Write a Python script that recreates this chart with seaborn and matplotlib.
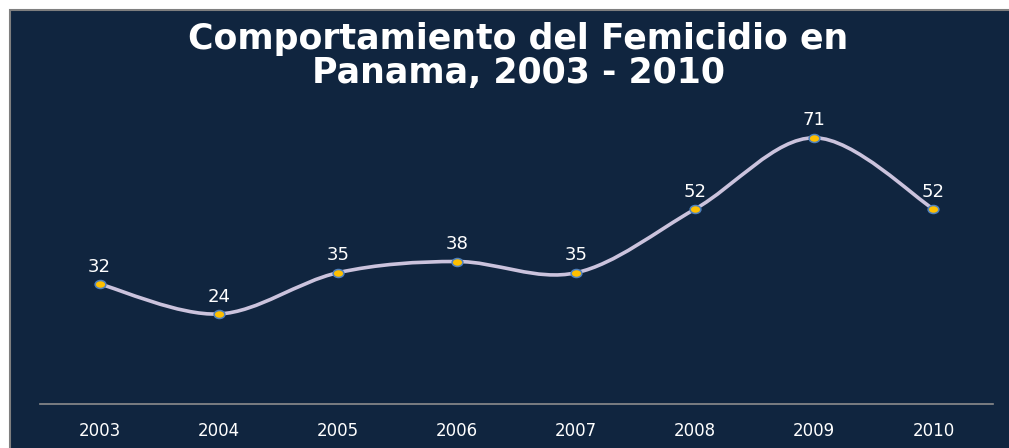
import numpy as np
import pandas as pd
import matplotlib
matplotlib.use("Agg")
import matplotlib.pyplot as plt
from matplotlib.path import Path
from matplotlib.patches import PathPatch, Rectangle
from matplotlib.transforms import Affine2D
import seaborn as sns

# Data
years = ["2003", "2004", "2005", "2006", "2007", "2008", "2009", "2010"]
cases = [32, 24, 35, 38, 35, 52, 71, 52]

navy = "#10253f"
sns.set_style("white")
plt.rcParams['font.family'] = ['DejaVu Sans']

fig = plt.figure(figsize=(10.09, 4.48), dpi=100)
fig.patch.set_facecolor("white")
fig.patches.append(Rectangle((10 / 1009, -0.01), 1.0, 1 - 10 / 448 + 0.01,
                             transform=fig.transFigure, facecolor=navy,
                             edgecolor="#7f7f7f", lw=1.5, zorder=-10))

ax = fig.add_axes([40 / 1009, 44 / 448, (993 - 40) / 1009, (404 - 104) / 448])
ax.set_facecolor("none")
ax.set_zorder(1)

df = pd.DataFrame({"year": years, "cases": cases})
xs = np.arange(len(years))

# smooth curve (Excel-like bezier through the points)
verts = [(xs[0], cases[0])]
codes = [Path.MOVETO]
n = len(xs)
for i in range(n - 1):
    p0 = np.array([xs[max(i - 1, 0)], cases[max(i - 1, 0)]], float)
    p1 = np.array([xs[i], cases[i]], float)
    p2 = np.array([xs[i + 1], cases[i + 1]], float)
    p3 = np.array([xs[min(i + 2, n - 1)], cases[min(i + 2, n - 1)]], float)
    c1 = p1 + (p2 - p0) / 6
    c2 = p2 - (p3 - p1) / 6
    verts += [tuple(c1), tuple(c2), tuple(p2)]
    codes += [Path.CURVE4] * 3
ax.add_patch(PathPatch(Path(verts, codes), facecolor="none",
                       edgecolor="#cbc3dd", lw=2.6, zorder=2, capstyle="round"))

# slightly wide oval markers
oval = Path.unit_circle().transformed(Affine2D().scale(1.35, 1.0))
sns.scatterplot(data=df, x=xs, y="cases", ax=ax, s=60, color="#ffc000",
                marker=oval, edgecolor="#4f81bd", linewidth=1.1, zorder=3)

for x, v in zip(xs, cases):
    ax.annotate(str(v), (x, v), xytext=(0, 6), textcoords="offset points",
                ha="center", va="bottom", color="white", fontsize=13)

ax.set_xlim(-0.5, 7.5)
ax.set_ylim(0, 80)
ax.set_xticks(xs)
ax.set_xticklabels(years, color="white", fontsize=12)
ax.tick_params(axis="x", length=0, pad=13)
ax.set_yticks([])
ax.set_xlabel("")
ax.set_ylabel("")
for s in ["top", "left", "right"]:
    ax.spines[s].set_visible(False)
ax.spines["bottom"].set_color("#8c8c8c")
ax.spines["bottom"].set_linewidth(1.2)

fig.text(518 / 1009, 1 - 56 / 448, "Comportamiento del Femicidio en\nPanama, 2003 - 2010",
         ha="center", va="center", color="white", fontsize=25, fontweight="bold",
         linespacing=1.0)

fig.savefig("out.png", dpi=100, facecolor=fig.get_facecolor())
